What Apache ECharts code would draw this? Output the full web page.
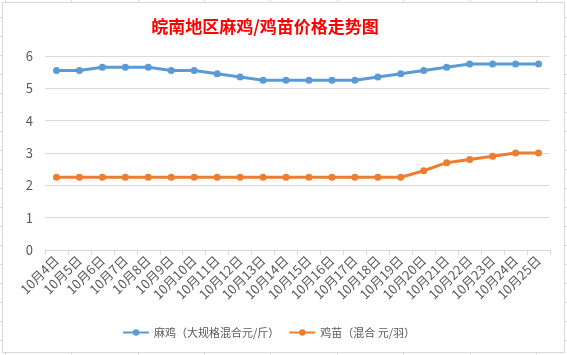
<!DOCTYPE html>
<html>
<head>
<meta charset="utf-8">
<script src="https://cdn.jsdelivr.net/npm/echarts@6/dist/echarts.min.js"></script>
<style>
html,body{margin:0;padding:0;background:#fff;}
#c{width:567px;height:355px;}
</style>
</head>
<body>
<div id="c"></div>
<script>
const categories = ['10月4日','10月5日','10月6日','10月7日','10月8日','10月9日','10月10日','10月11日','10月12日','10月13日','10月14日','10月15日','10月16日','10月17日','10月18日','10月19日','10月20日','10月21日','10月22日','10月23日','10月24日','10月25日'];
const majiPrices = [5.55,5.55,5.65,5.65,5.65,5.55,5.55,5.45,5.35,5.25,5.25,5.25,5.25,5.25,5.35,5.45,5.55,5.65,5.75,5.75,5.75,5.75];
const jimiaoPrices = [2.25,2.25,2.25,2.25,2.25,2.25,2.25,2.25,2.25,2.25,2.25,2.25,2.25,2.25,2.25,2.25,2.45,2.7,2.8,2.9,3.0,3.0];
const seriesNames = ['麻鸡（大规格混合元/斤）','鸡苗（混合 元/羽）'];
const titleText = '皖南地区麻鸡/鸡苗价格走势图';

const FONT = '"Noto Sans CJK SC", "Noto Sans", sans-serif';
const GRAY = '#d9d9d9';

// spreadsheet background decoration (cell grid stubs around chart frame)
const deco = [];
const cols = [5, 71, 138, 204, 270, 337, 403, 470, 536];
cols.forEach(x => {
  deco.push({type:'line', shape:{x1:x+0.5,y1:0,x2:x+0.5,y2:2}, style:{stroke:GRAY,lineWidth:1}, silent:true});
  deco.push({type:'line', shape:{x1:x+0.5,y1:353,x2:x+0.5,y2:355}, style:{stroke:GRAY,lineWidth:1}, silent:true});
});
for (let y = 17; y < 355; y += 19) {
  deco.push({type:'line', shape:{x1:0,y1:y+0.5,x2:2,y2:y+0.5}, style:{stroke:GRAY,lineWidth:1}, silent:true});
  deco.push({type:'line', shape:{x1:565,y1:y+0.5,x2:567,y2:y+0.5}, style:{stroke:GRAY,lineWidth:1}, silent:true});
}
deco.push({type:'rect', shape:{x:2.5,y:2.5,width:562,height:350}, style:{fill:null,stroke:GRAY,lineWidth:1}, silent:true});

const chart = echarts.init(document.getElementById('c'), null, {renderer:'canvas'});
chart.setOption({
  animation:false,
  backgroundColor:'#fff',
  textStyle:{fontFamily:FONT},
  graphic: deco,
  title:{
    text: titleText,
    left: 260, top: 13, textAlign:'center',
    textStyle:{color:'#ff0000', fontSize:17, fontWeight:'bold', fontFamily:FONT}
  },
  legend:{
    left: 117, top: 322,
    itemWidth: 26, itemHeight: 8, itemGap: 9,
    textStyle:{color:'#595959', fontSize:11, fontFamily:FONT},
    data: seriesNames
  },
  grid:{left:45, right:17, top:56, bottom:105, containLabel:false},
  xAxis:{
    type:'category',
    data: categories,
    boundaryGap:true,
    axisLine:{lineStyle:{color:GRAY}},
    axisTick:{show:true, length:5, lineStyle:{color:GRAY}},
    axisLabel:{rotate:45, color:'#595959', fontSize:13, margin:8, interval:0, fontFamily:FONT}
  },
  yAxis:{
    type:'value', min:0, max:6, interval:1,
    axisLine:{show:false}, axisTick:{show:false},
    splitLine:{lineStyle:{color:GRAY}},
    axisLabel:{color:'#595959', fontSize:13, margin:12, fontFamily:FONT}
  },
  series:[
    {name:seriesNames[0], type:'line', data:majiPrices, symbol:'circle', symbolSize:7,
     itemStyle:{color:'#5b9bd5'}, lineStyle:{width:3, color:'#5b9bd5'}},
    {name:seriesNames[1], type:'line', data:jimiaoPrices, symbol:'circle', symbolSize:7,
     itemStyle:{color:'#ed7d31'}, lineStyle:{width:3, color:'#ed7d31'}}
  ]
});
</script>
</body>
</html>
